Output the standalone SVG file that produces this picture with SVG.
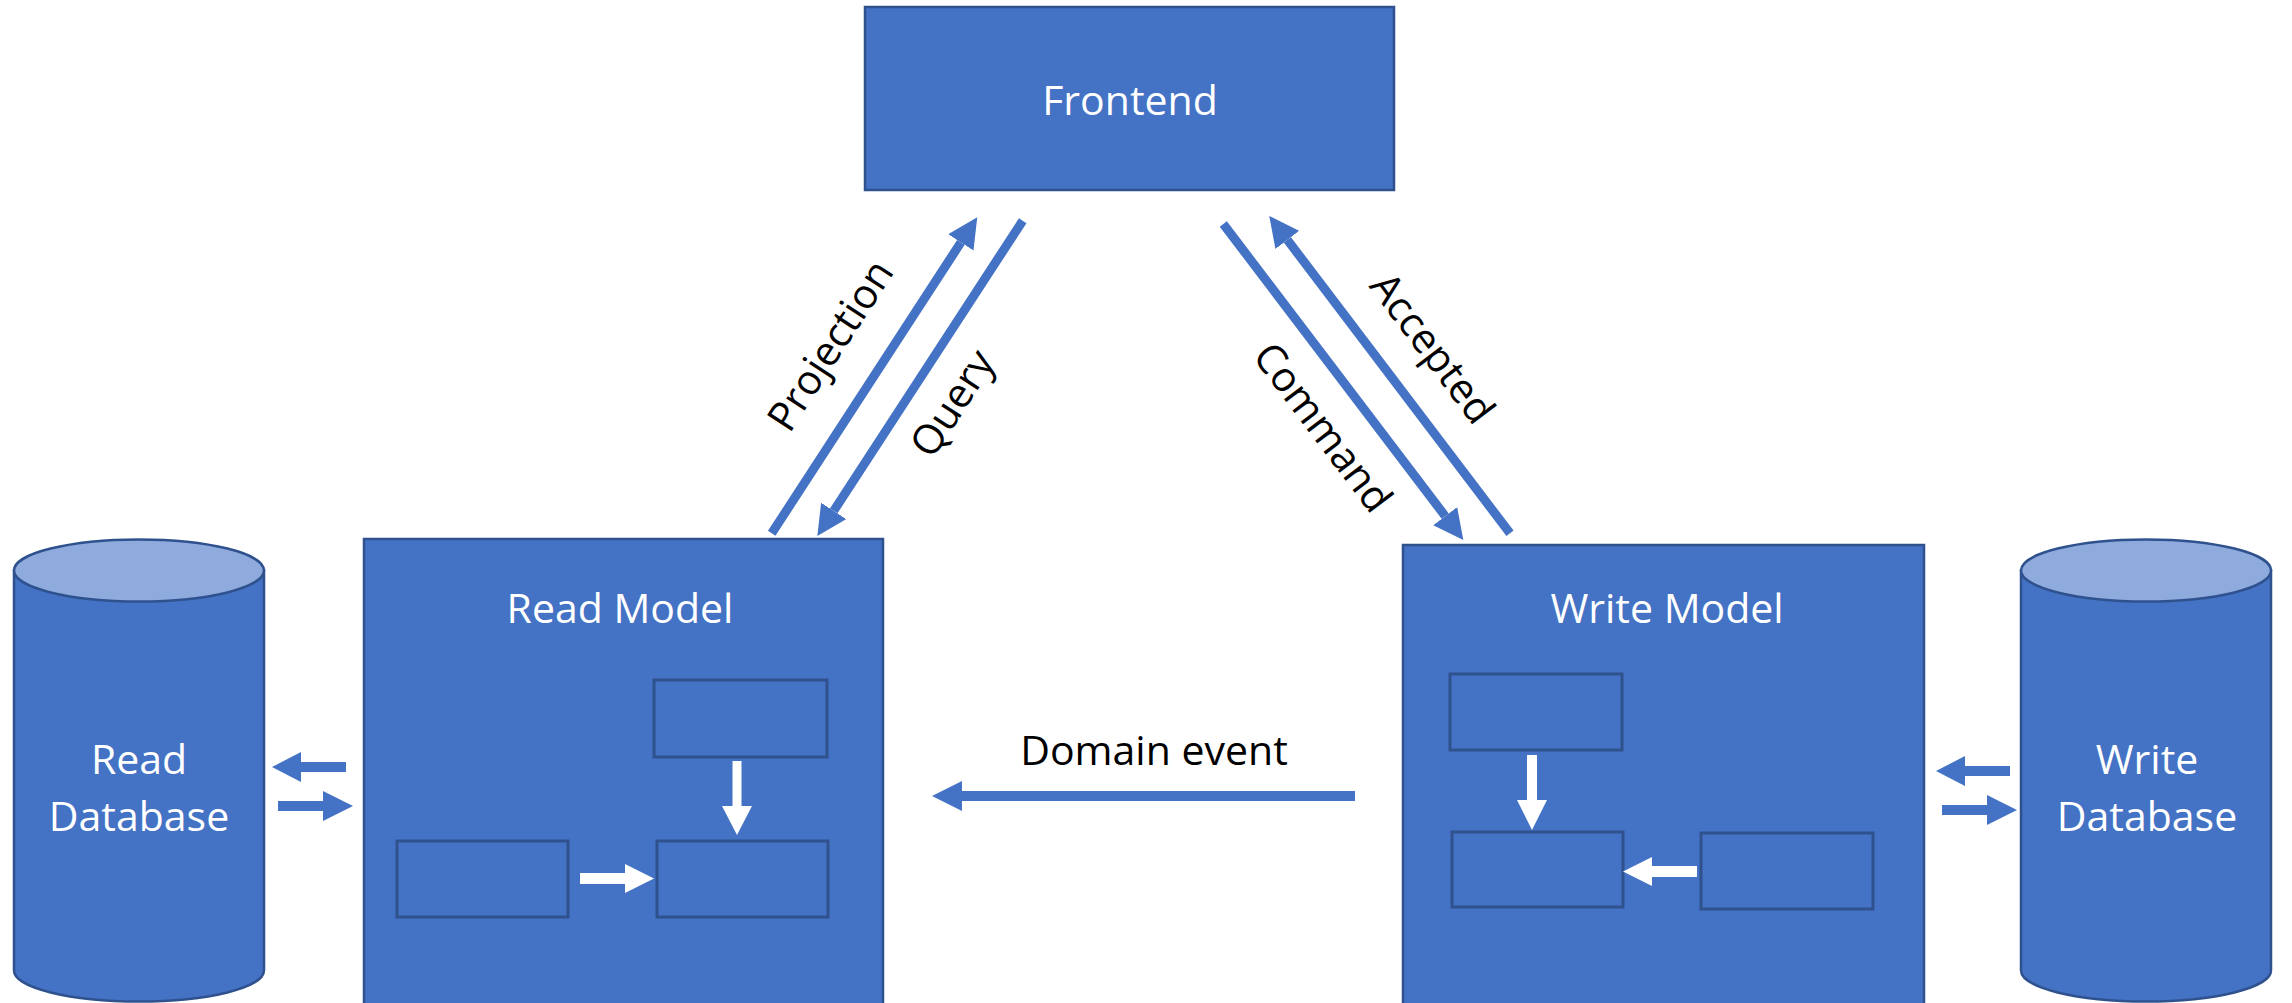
<svg xmlns="http://www.w3.org/2000/svg" width="2292" height="1003" viewBox="0 0 2292 1003">
  <style>
    .box { fill: #4472C4; stroke: #2F528F; stroke-width: 2.5; }
    .inner { fill: #4472C4; stroke: #2F528F; stroke-width: 3; }
    .top { fill: #8FAADC; stroke: #2F528F; stroke-width: 2.5; }
    .wt { fill: #FFFFFF; font-family: "Open Sans", "Noto Sans", sans-serif; font-size: 41px; text-anchor: middle; }
    .lbl { fill: #000000; font-family: "Open Sans", "Noto Sans", sans-serif; font-size: 41px; text-anchor: middle; }
    .conn { stroke: #4472C4; stroke-width: 9; fill: none; marker-end: url(#ah); }
    .blk { fill: #4472C4; }
    .wa { fill: #FFFFFF; }
  </style>
  <defs>
    <marker id="ah" markerUnits="userSpaceOnUse" markerWidth="30" markerHeight="30" refX="0" refY="15" orient="auto" viewBox="0 0 30 30">
      <path d="M0,0 L30,15 L0,30 Z" fill="#4472C4"/>
    </marker>
  </defs>

  <g id="frontend">
    <rect class="box" x="865" y="7" width="529" height="183"/>
    <text class="wt" x="1130" y="115">Frontend</text>
  </g>

  <g id="read-db">
    <path class="box" d="M14,570.5 L14,970.5 A125,31 0 0 0 264,970.5 L264,570.5 Z"/>
    <ellipse class="top" cx="139" cy="570.5" rx="125" ry="31"/>
    <text class="wt" x="139" y="774">Read</text>
    <text class="wt" x="139" y="831">Database</text>
  </g>

  <g id="read-model">
    <rect class="box" x="364" y="539" width="519" height="470"/>
    <text class="wt" x="620" y="623">Read Model</text>
    <rect class="inner" x="654" y="680" width="173" height="77"/>
    <rect class="inner" x="397" y="841" width="171" height="76"/>
    <rect class="inner" x="657" y="841" width="171" height="76"/>
    <polygon class="wa" points="732.5,761 741.5,761 741.5,806 752,806 737,835 722,806 732.5,806"/>
    <polygon class="wa" points="580,873 625,873 625,864 654,878.5 625,893 625,884 580,884"/>
  </g>

  <g id="write-model">
    <rect class="box" x="1403" y="545" width="521" height="464"/>
    <text class="wt" x="1667" y="623">Write Model</text>
    <rect class="inner" x="1450" y="674" width="172" height="76"/>
    <rect class="inner" x="1452" y="832" width="171" height="75"/>
    <rect class="inner" x="1701" y="833" width="172" height="76"/>
    <polygon class="wa" points="1527,755 1537,755 1537,800 1547,800 1532,830 1517,800 1527,800"/>
    <polygon class="wa" points="1697,866 1652,866 1652,857 1623,871.5 1652,886 1652,877 1697,877"/>
  </g>

  <g id="write-db">
    <path class="box" d="M2021,570.5 L2021,970.5 A125,31 0 0 0 2271,970.5 L2271,570.5 Z"/>
    <ellipse class="top" cx="2146" cy="570.5" rx="125" ry="31"/>
    <text class="wt" x="2147" y="774">Write</text>
    <text class="wt" x="2147" y="831">Database</text>
  </g>

  <g id="connectors">
    <line class="conn" x1="771.7" y1="533.3" x2="960.9" y2="242.4"/>
    <line class="conn" x1="1022.7" y1="220.7" x2="833.7" y2="510.9"/>
    <line class="conn" x1="1223.3" y1="224" x2="1445.2" y2="516.1"/>
    <line class="conn" x1="1510" y1="533.3" x2="1287.4" y2="239.9"/>
    <line class="conn" style="stroke-width:10" x1="1355" y1="796" x2="962" y2="796"/>
    <polygon class="blk" points="346,762 301,762 301,752 272,767 301,782 301,772 346,772"/>
    <polygon class="blk" points="278,801 323,801 323,791 353,806 323,821 323,811 278,811"/>
    <polygon class="blk" points="2010,766 1965,766 1965,756 1936,771 1965,786 1965,776 2010,776"/>
    <polygon class="blk" points="1942,805 1987,805 1987,795 2017,810 1987,825 1987,815 1942,815"/>
    <text class="lbl" transform="translate(833,347) rotate(-57)" y="11">Projection</text>
    <text class="lbl" transform="translate(955,405) rotate(-57)" y="11">Query</text>
    <text class="lbl" transform="translate(1322,428) rotate(53)" y="13">Command</text>
    <text class="lbl" transform="translate(1430,350) rotate(53)" y="11">Accepted</text>
    <text class="lbl" x="1154" y="765">Domain event</text>
  </g>
</svg>
